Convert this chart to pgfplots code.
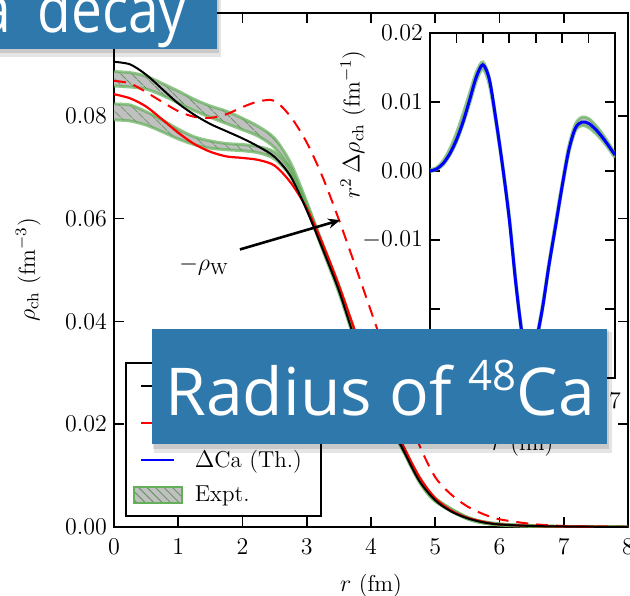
\documentclass[border=0pt]{standalone}
\usepackage{fontspec}
\usepackage{pgfplots}
\pgfplotsset{compat=1.18}
\usepackage{pgfplotstable}
\usepgfplotslibrary{fillbetween}
\usetikzlibrary{patterns,patterns.meta,arrows.meta}
\newfontfamily\bannerfont{Open Sans}
\newcommand{\mysize}{\fontsize{11.5}{13.8}\selectfont}
\definecolor{bannerblue}{RGB}{46,120,172}
\definecolor{bandgreen}{RGB}{100,175,90}
\definecolor{hatchgreen}{RGB}{105,150,100}
\definecolor{bandgray}{RGB}{192,192,192}

\pgfplotstableread{
x y
0 0.0905
0.25 0.0900
0.5 0.0880
0.75 0.0852
1.0 0.0824
1.25 0.0802
1.5 0.0784
1.75 0.0770
2.0 0.0756
2.25 0.0740
2.5 0.0720
2.75 0.0682
3.0 0.0616
3.25 0.0540
3.5 0.0460
3.75 0.0365
4.0 0.0282
4.25 0.0212
4.5 0.0150
4.75 0.0090
5.0 0.0052
5.25 0.0030
5.5 0.0017
5.75 0.0009
6.0 0.0005
6.5 0.0002
7.0 0.0001
8.0 0.0000
}\thA

\pgfplotstableread{
x y
0 0.0842
0.25 0.0834
0.5 0.0818
0.75 0.0793
1.0 0.0767
1.25 0.0745
1.5 0.0730
1.75 0.0721
2.0 0.0718
2.25 0.0714
2.5 0.0703
2.75 0.0670
3.0 0.0620
3.25 0.0550
3.5 0.0470
3.75 0.0382
4.0 0.0298
4.25 0.0224
4.5 0.0158
4.75 0.0098
5.0 0.0056
5.25 0.0032
5.5 0.0018
5.75 0.0010
6.0 0.0005
6.5 0.0002
7.0 0.0001
8.0 0.0000
}\thB

\pgfplotstableread{
x y
0 0.0868
0.25 0.0863
0.5 0.0846
0.75 0.0827
1.0 0.0809
1.25 0.0798
1.5 0.0796
1.75 0.0803
2.0 0.0817
2.25 0.0828
2.5 0.0829
2.75 0.0798
3.0 0.0748
3.25 0.0680
3.5 0.0598
3.75 0.0510
4.0 0.0420
4.25 0.0330
4.5 0.0245
4.75 0.0160
5.0 0.0097
5.25 0.0063
5.5 0.0040
5.75 0.0025
6.0 0.0015
6.5 0.0006
7.0 0.0002
8.0 0.0000
}\weak

\pgfplotstableread{
x hi lo
0 0.0886 0.0858
0.25 0.0884 0.0856
0.5 0.0877 0.0852
0.75 0.0863 0.0840
1.0 0.0848 0.0825
1.25 0.0832 0.0810
1.5 0.0819 0.0797
1.75 0.0809 0.0785
2.0 0.0795 0.0773
2.25 0.0779 0.0760
2.5 0.0756 0.0738
2.75 0.0708 0.0695
3.0 0.0632 0.0622
3.25 0.0548 0.0538
3.5 0.0466 0.0456
3.75 0.0372 0.0362
4.0 0.0288 0.0278
4.25 0.0217 0.0209
4.5 0.0155 0.0148
4.75 0.0094 0.0088
5.0 0.0055 0.0050
5.5 0.0019 0.0016
6.0 0.0006 0.0004
7.0 0.0001 0.0000
8.0 0.0000 0.0000
}\exA

\pgfplotstableread{
x hi lo
0 0.0823 0.0792
0.25 0.0821 0.0790
0.5 0.0808 0.0782
0.75 0.0792 0.0769
1.0 0.0774 0.0755
1.25 0.0759 0.0744
1.5 0.0751 0.0737
1.75 0.0746 0.0734
2.0 0.0744 0.0732
2.25 0.0740 0.0728
2.5 0.0729 0.0716
2.75 0.0693 0.0682
3.0 0.0628 0.0620
3.25 0.0550 0.0542
3.5 0.0470 0.0462
3.75 0.0380 0.0372
4.0 0.0295 0.0287
4.25 0.0221 0.0214
4.5 0.0157 0.0150
4.75 0.0097 0.0091
5.0 0.0056 0.0051
5.5 0.0019 0.0016
6.0 0.0006 0.0004
7.0 0.0001 0.0000
8.0 0.0000 0.0000
}\exB

\pgfplotstableread{
x y
0 0.0000
0.25 0.0003
0.5 0.0011
0.75 0.0025
1.0 0.0045
1.25 0.0071
1.5 0.0103
1.75 0.0136
2.0 0.0154
2.25 0.0132
2.5 0.0073
2.75 0.0006
3.0 -0.0070
3.25 -0.0164
3.5 -0.0240
3.75 -0.0272
4.0 -0.0248
4.25 -0.0200
4.5 -0.0137
4.75 -0.0080
5.0 -0.0022
5.25 0.0030
5.5 0.0062
5.75 0.0071
6.0 0.0069
6.25 0.0061
6.5 0.0050
6.75 0.0037
7.0 0.0023
}\dTh

\pgfplotstableread{
x hi lo
0 0.0002 -0.0001
0.25 0.0005 0.0002
0.5 0.0015 0.0009
0.75 0.0032 0.0023
1.0 0.0055 0.0042
1.25 0.0083 0.0068
1.5 0.0113 0.0098
1.75 0.0143 0.0130
2.0 0.0158 0.0148
2.25 0.0134 0.0124
2.5 0.0076 0.0068
2.75 0.0010 0.0002
3.0 -0.0064 -0.0072
3.25 -0.0158 -0.0167
3.5 -0.0236 -0.0244
3.75 -0.0268 -0.0276
4.0 -0.0245 -0.0253
4.25 -0.0195 -0.0203
4.5 -0.0132 -0.0140
4.75 -0.0074 -0.0083
5.0 -0.0017 -0.0026
5.25 0.0036 0.0026
5.5 0.0068 0.0058
5.75 0.0078 0.0066
6.0 0.0076 0.0063
6.25 0.0067 0.0055
6.5 0.0055 0.0045
6.75 0.0041 0.0033
7.0 0.0025 0.0019
}\dEx

\pgfplotsset{
  every tick label/.append style={font=\mysize},
  every axis label/.append style={font=\mysize},
}

\begin{document}
\begin{tikzpicture}[x=1pt,y=1pt]

\begin{axis}[
  at={(57pt,34pt)}, anchor=south west, scale only axis,
  width=257pt, height=257pt,
  xmin=0, xmax=8, ymin=0, ymax=0.1,
  xtick={0,1,2,3,4,5,6,7,8},
  ytick={0,0.02,0.04,0.06,0.08,0.1},
  scaled y ticks=false,
  yticklabel style={/pgf/number format/.cd,fixed,fixed zerofill,precision=2},
  xticklabel style={yshift=-2.5pt},
  tick align=inside, major tick length=5pt,
  tick style={black, line width=0.8pt},
  axis line style={line width=1pt},
  xlabel={$r$ (fm)},
  ylabel={$\rho_{\rm ch}$ (fm$^{-3}$)},
  every axis x label/.style={at={(axis description cs:0.5,-0.115)}, anchor=center},
  every axis y label/.style={at={(axis description cs:-0.167,0.5)}, rotate=90, anchor=center},
  legend image code/.code={\draw[#1] (4.5pt,0pt) -- (21pt,0pt); \path[draw=none,fill=none] (0pt,0pt) -- (29.5pt,0pt);},
  legend cell align=left,
  legend style={at={(rel axis cs:0.0214,0.0195)}, anchor=south west,
    draw=black, line width=0.8pt, fill=white, font=\mysize,
    inner xsep=3pt, inner ysep=2pt,
    nodes={inner ysep=3.9pt}},
]
% experimental bands
\addplot[draw=none, smooth, name path=A1, forget plot] table[x=x,y=hi]{\exA};
\addplot[draw=none, smooth, name path=A2, forget plot] table[x=x,y=lo]{\exA};
\addplot[fill=bandgray, draw=none, forget plot] fill between[of=A1 and A2];
\addplot[draw=none, pattern={Lines[angle=-45,distance=4pt,line width=0.5pt]}, pattern color=hatchgreen, forget plot] fill between[of=A1 and A2];
\addplot[draw=none, smooth, name path=B1, forget plot] table[x=x,y=hi]{\exB};
\addplot[draw=none, smooth, name path=B2, forget plot] table[x=x,y=lo]{\exB};
\addplot[fill=bandgray, draw=none, forget plot] fill between[of=B1 and B2];
\addplot[draw=none, pattern={Lines[angle=-45,distance=4pt,line width=0.5pt]}, pattern color=hatchgreen, forget plot] fill between[of=B1 and B2];
\addplot[bandgreen, line width=1.5pt, opacity=0.7, smooth, forget plot] table[x=x,y=hi]{\exA};
\addplot[bandgreen, line width=1.5pt, opacity=0.7, smooth, forget plot] table[x=x,y=lo]{\exA};
\addplot[bandgreen, line width=1.5pt, opacity=0.7, smooth, forget plot] table[x=x,y=hi]{\exB};
\addplot[bandgreen, line width=1.5pt, opacity=0.7, smooth, forget plot] table[x=x,y=lo]{\exB};
% theory
\addplot[red, line width=1pt, dash pattern=on 6pt off 4pt, smooth, forget plot] table[x=x,y=y]{\weak};
\addplot[red, line width=1.1pt, smooth, forget plot] table[x=x,y=y]{\thB};
\addplot[black, line width=1pt, smooth, forget plot] table[x=x,y=y]{\thA};
% annotation
\draw[-{Stealth[length=6pt,width=5pt]}, line width=1.3pt] (axis cs:1.96,0.0540) -- (axis cs:3.52,0.0597);
\node[font=\mysize] at (axis cs:1.40,0.0508) {$-\rho_{\rm W}$};
% legend
\addlegendimage{black, line width=1pt}
\addlegendentry{\makebox[58pt][l]{$^{48}$Ca (Th.)}}
\addlegendimage{red, line width=1pt}
\addlegendentry{\makebox[58pt][l]{$^{40}$Ca (Th.)}}
\addlegendimage{blue, line width=1.2pt}
\addlegendentry{\makebox[58pt][l]{$\Delta$Ca (Th.)}}
\addlegendimage{legend image code/.code={
  \fill[bandgray] (1pt,-4pt) rectangle (25pt,4pt);
  \fill[pattern={Lines[angle=-45,distance=3pt,line width=0.5pt]}, pattern color=hatchgreen] (1pt,-4pt) rectangle (25pt,4pt);
  \draw[bandgreen, line width=1.2pt] (1pt,-4pt) rectangle (25pt,4pt);
  \path[draw=none,fill=none] (0pt,0pt) -- (29.5pt,0pt);}}
\addlegendentry{\makebox[58pt][l]{Expt.}}
\end{axis}

\begin{axis}[
  at={(215pt,108.5pt)}, anchor=south west, scale only axis,
  width=92.5pt, height=172.5pt,
  xmin=0, xmax=7, ymin=-0.03, ymax=0.02,
  xtick={0,1,2,3,4,5,6,7},
  ytick={-0.03,-0.02,-0.01,0,0.01,0.02},
  scaled y ticks=false,
  yticklabels={{},{},$-0.01$,$0.00$,$0.01$,$0.02$},
  xticklabel style={yshift=-4pt},
  tick align=inside, major tick length=5pt,
  tick style={black, line width=0.8pt},
  axis line style={line width=1pt},
  xlabel={$r$ (fm)},
  ylabel={$r^2\,\Delta\rho_{\rm ch}$ (fm$^{-1}$)},
  every axis x label/.style={at={(axis description cs:0.5,-0.194)}, anchor=center},
  every axis y label/.style={at={(axis description cs:-0.416,0.735)}, rotate=90, anchor=center},
]
\addplot[draw=none, smooth, name path=C1] table[x=x,y=hi]{\dEx};
\addplot[draw=none, smooth, name path=C2] table[x=x,y=lo]{\dEx};
\addplot[fill=bandgray, draw=none] fill between[of=C1 and C2];
\addplot[bandgreen, line width=1.5pt, opacity=0.7, smooth] table[x=x,y=hi]{\dEx};
\addplot[bandgreen, line width=1.5pt, opacity=0.7, smooth] table[x=x,y=lo]{\dEx};
\addplot[blue, line width=1.5pt, smooth] table[x=x,y=y]{\dTh};
\end{axis}

% banners
\fill[black, opacity=0.10] (77,71) rectangle (306,131.5);
\fill[black, opacity=0.12] (76.5,73) rectangle (304.5,132.5);
\fill[bannerblue] (76,75.5) rectangle (303.5,133);
\node[anchor=base west, inner sep=0, text=white, font=\bannerfont\fontsize{33}{38}\selectfont] at (82.5,90) {Radius of \raisebox{12.5pt}{\fontsize{21}{24}\selectfont 48}Ca};

\fill[black, opacity=0.10] (-5,269) rectangle (110.5,300);
\fill[black, opacity=0.12] (-5,271) rectangle (109.5,300);
\fill[bannerblue] (-5,273) rectangle (108.5,300);
\node[anchor=base east, inner sep=0, text=white, font=\bannerfont\fontsize{32}{38}\selectfont] at (93.5,281) {\scalebox{0.86}[1]{beta\hspace{7pt} decay}};

\pgfresetboundingbox
\path[use as bounding box] (0,0) rectangle (315,297.5);
\end{tikzpicture}
\end{document}
